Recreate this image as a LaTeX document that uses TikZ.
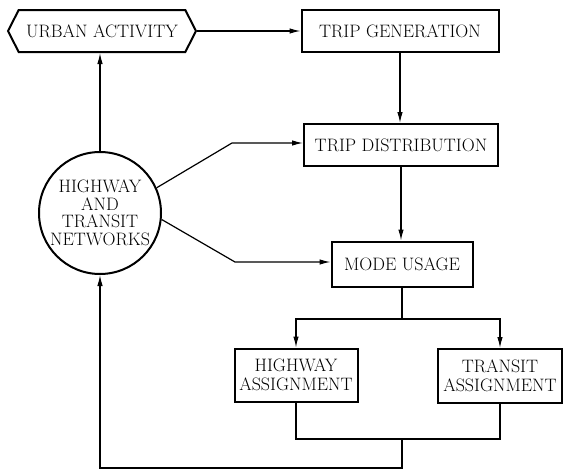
\documentclass[tikz,border=0pt]{standalone}
\usetikzlibrary{shapes.symbols,arrows.meta}

\begin{document}
\begin{tikzpicture}[x=1pt,y=-1pt,
    box/.style={draw,line width=2pt,minimum height=42pt,inner sep=1pt,
      font=\fontsize{18}{19}\selectfont,align=center},
    link/.style={line width=1.2pt,-{Latex[length=11pt,width=5.5pt]}},
    wire/.style={line width=1.2pt}]
  \useasboundingbox (0,0) rectangle (565,471);
  % boxes
  \node[box,signal,signal to=west and east,signal pointer angle=126,minimum width=188pt]
     (urban) at (102,31) {URBAN ACTIVITY};
  \node[box,minimum width=197pt] (tripgen) at (400,31) {TRIP GENERATION};
  \node[box,minimum width=194pt] (tripdist) at (401,145) {TRIP DISTRIBUTION};
  \node[box,minimum width=141pt,minimum height=45pt] (mode) at (402,264) {MODE USAGE};
  \node[box,minimum width=123pt,minimum height=53pt] (hwyasg) at (296,375) {HIGHWAY\\ASSIGNMENT};
  \node[box,minimum width=124pt,minimum height=54pt] (trnasg) at (500,376) {TRANSIT\\ASSIGNMENT};
  \node[box,circle,minimum size=122pt,inner sep=0pt,font=\fontsize{18}{17.5}\selectfont]
     (networks) at (100,213) {HIGHWAY\\AND\\TRANSIT\\NETWORKS};
  % bends
  \coordinate (bendA) at (232,143);
  \coordinate (bendB) at (235,262);
  \coordinate (split) at (402,319);
  \coordinate (merge) at (402,439);
  \coordinate (back) at (402,468);
  % connectors
  \draw[link] (networks.north) -- (networks.north |- urban.south);
  \draw[link] (urban.east) -- (tripgen.west);
  \draw[link] (tripgen.south) -- (tripgen.south |- tripdist.north);
  \draw[link] (networks.24) -- (bendA) -- (bendA -| tripdist.west);
  \draw[link] (tripdist.south) -- (tripdist.south |- mode.north);
  \draw[link] (networks.-6) -- (bendB) -- (bendB -| mode.west);
  \draw[wire] (mode.south) -- (split);
  \draw[link] (split) -| (hwyasg.north);
  \draw[link] (split) -| (trnasg.north);
  \draw[wire] (hwyasg.south) |- (merge) -| (trnasg.south);
  \draw[link] (merge) -- (back) -| (networks.south);
\end{tikzpicture}
\end{document}
